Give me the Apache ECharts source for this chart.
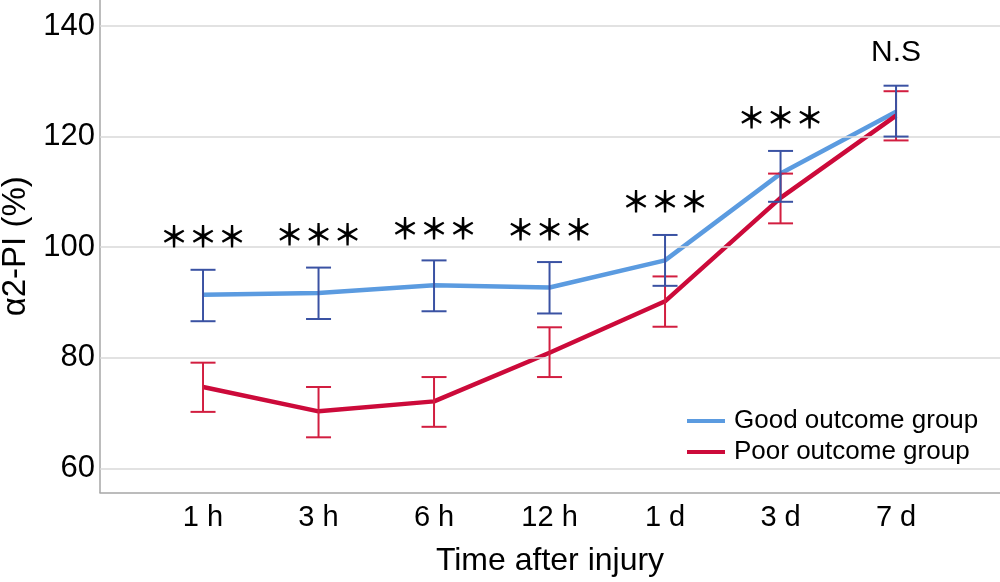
<!DOCTYPE html>
<html>
<head>
<meta charset="utf-8">
<script src="https://cdn.jsdelivr.net/npm/echarts@6/dist/echarts.min.js"></script>
<style>
  html, body { margin: 0; padding: 0; background: #fff; }
  #chart { width: 1000px; height: 582px; }
</style>
</head>
<body>
<div id="chart"></div>
<script>
const categories = ['1 h', '3 h', '6 h', '12 h', '1 d', '3 d', '7 d'];
const yTicks = [60, 80, 100, 120, 140];

const goodMean = [91.4, 91.7, 93.1, 92.7, 97.6, 113.3, 124.5];
const goodLow = [86.6, 87.0, 88.4, 88.0, 93.0, 108.2, 120.0];
const goodHigh = [95.9, 96.3, 97.6, 97.3, 102.2, 117.4, 129.2];

const poorMean = [74.7, 70.3, 72.1, 80.9, 90.2, 108.9, 123.8];
const poorLow = [70.2, 65.6, 67.5, 76.5, 85.6, 104.3, 119.3];
const poorHigh = [79.1, 74.7, 76.5, 85.5, 94.7, 113.3, 128.2];

const sigText = ['＊＊＊', '＊＊＊', '＊＊＊', '＊＊＊', '＊＊＊', '＊＊＊', 'N.S'];
const sigY = [101.8, 102.2, 103.3, 103.1, 108.1, 123.3, 135.2];

const FONT = '"Liberation Sans", Arial, sans-serif';

const errorBars = (low, high, color) => ({
  type: 'custom',
  z: 5,
  silent: true,
  data: low.map((v, i) => [i, v, high[i]]),
  renderItem: (params, api) => {
    const x = api.value(0);
    const lo = api.coord([x, api.value(1)]);
    const hi = api.coord([x, api.value(2)]);
    const w = 12.5;
    const style = { stroke: color, lineWidth: 2 };
    return {
      type: 'group',
      children: [
        { type: 'line', shape: { x1: lo[0], y1: lo[1], x2: hi[0], y2: hi[1] }, style },
        { type: 'line', shape: { x1: hi[0] - w, y1: hi[1], x2: hi[0] + w, y2: hi[1] }, style },
        { type: 'line', shape: { x1: lo[0] - w, y1: lo[1], x2: lo[0] + w, y2: lo[1] }, style }
      ]
    };
  }
});

// significance marks drawn as text at their data positions
const sigLabels = {
  type: 'custom',
  z: 6,
  silent: true,
  data: sigY.map((v, i) => [i, v]),
  renderItem: (params, api) => {
    const p = api.coord([api.value(0), api.value(1)]);
    const txt = sigText[params.dataIndex];
    const isNs = txt === 'N.S';
    return {
      type: 'text',
      x: p[0],
      y: p[1],
      style: {
        text: txt,
        fill: '#000',
        font: isNs ? '30px "Liberation Sans", Arial, sans-serif' : 'bold 29px "Noto Sans CJK JP", sans-serif',
        align: 'center',
        verticalAlign: 'middle'
      }
    };
  }
};

const chart = echarts.init(document.getElementById('chart'));
chart.setOption({
  animation: false,
  backgroundColor: '#fff',
  grid: { left: 100, right: 0, top: 0, bottom: 89.4, outerBoundsMode: 'none', containLabel: false },
  legend: {
    orient: 'vertical',
    left: 682,
    top: 403,
    itemWidth: 38,
    itemHeight: 4,
    itemGap: 5,
    icon: 'rect',
    data: ['Good outcome group', 'Poor outcome group'],
    textStyle: { fontFamily: FONT, fontSize: 26, color: '#000', padding: [0, 0, 0, 4] }
  },
  xAxis: {
    type: 'value',
    min: -0.892,
    max: 6.9,
    name: 'Time after injury',
    nameLocation: 'middle',
    nameGap: 53,
    nameTextStyle: { fontFamily: FONT, fontSize: 32, color: '#000' },
    axisLine: { show: true, onZero: false, lineStyle: { color: '#a6a6a6', width: 1.5 } },
    axisTick: { show: false },
    splitLine: { show: false },
    axisLabel: {
      customValues: categories.map((c, i) => i),
      formatter: v => categories[Math.round(v)] || '',
      fontFamily: FONT,
      fontSize: 29,
      color: '#000',
      margin: 11
    }
  },
  yAxis: {
    type: 'value',
    min: 55.6,
    max: 144.7,
    name: 'α2-PI (%)',
    nameLocation: 'middle',
    nameGap: 50,
    nameTextStyle: { fontFamily: FONT, fontSize: 33, color: '#000', padding: [0, 0, 0, 0] },
    axisLine: { show: true, onZero: false, lineStyle: { color: '#a6a6a6', width: 1.5 } },
    axisTick: { show: false },
    splitLine: { show: false },
    axisLabel: {
      customValues: yTicks,
      fontFamily: FONT,
      fontSize: 31,
      color: '#000',
      margin: 5
    }
  },
  series: [
    {
      type: 'line',
      data: [],
      silent: true,
      z: 0,
      markLine: {
        silent: true,
        symbol: 'none',
        label: { show: false },
        lineStyle: { color: '#d9d9d9', width: 1.5, type: 'solid' },
        data: yTicks.map(v => ({ yAxis: v }))
      }
    },
    {
      name: 'Good outcome group',
      type: 'line',
      z: 2,
      data: goodMean.map((v, i) => [i, v]),
      showSymbol: false,
      symbol: 'none',
      itemStyle: { color: '#5b9be0' },
      lineStyle: { color: '#5b9be0', width: 4.5 }
    },
    {
      name: 'Poor outcome group',
      type: 'line',
      z: 3,
      data: poorMean.map((v, i) => [i, v]),
      showSymbol: false,
      symbol: 'none',
      itemStyle: { color: '#cc0a3a' },
      lineStyle: { color: '#cc0a3a', width: 4.5 }
    },
    errorBars(poorLow, poorHigh, '#d21e40'),
    errorBars(goodLow, goodHigh, '#3a52a3'),
    sigLabels
  ]
});
</script>
</body>
</html>
